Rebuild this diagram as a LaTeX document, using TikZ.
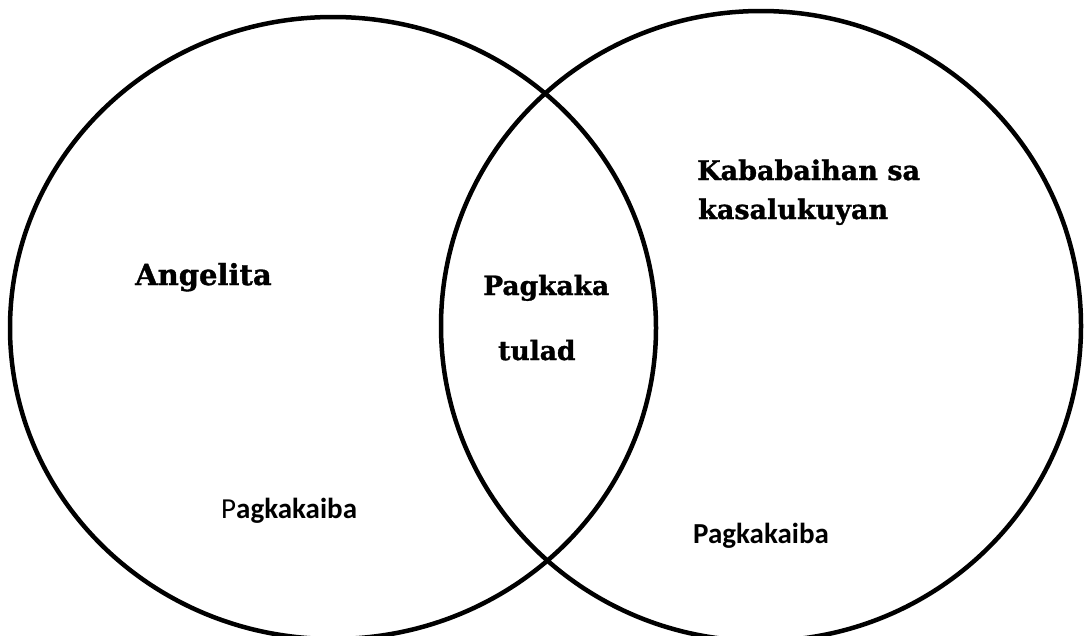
\documentclass[tikz,border=0pt]{standalone}
\usepackage{fontspec}
\setmainfont{DejaVu Serif}[BoldFeatures={FakeBold=1.2}]
\newfontfamily\calfont{Carlito}
\tikzset{
  title/.style={font=\bfseries\fontsize{29}{32}\selectfont, inner sep=0pt, anchor=base west},
  middle/.style={title, font=\bfseries\fontsize{26.5}{30}\selectfont},
  corner/.style={title, font=\bfseries\fontsize{27}{30}\selectfont},
  diff/.style={font=\calfont\bfseries\fontsize{29}{32}\selectfont, inner sep=0pt, anchor=base west}
}
\begin{document}
\begin{tikzpicture}[x=1pt,y=-1pt]
\useasboundingbox (0,0) rectangle (1084,635);
\draw[line width=4.5pt] (333,328) ellipse (323 and 311);
\draw[line width=4.5pt] (761,326) ellipse (320 and 315);
\node[title] (angelita) at (135,285) {Angelita};
\node[middle] (pagkaka) at (483,295) {Pagkaka};
\node[middle] (tulad) at (498,360) {tulad};
\node[corner] (kababaihan) at (697,180) {Kababaihan sa};
\node[corner] (kasalukuyan) at (698,219) {kasalukuyan};
\node[diff] (ibaleft) at (221,518) {{\mdseries P}agkakaiba};
\node[diff] (ibaright) at (693,543) {Pagkakaiba};
\end{tikzpicture}
\end{document}
